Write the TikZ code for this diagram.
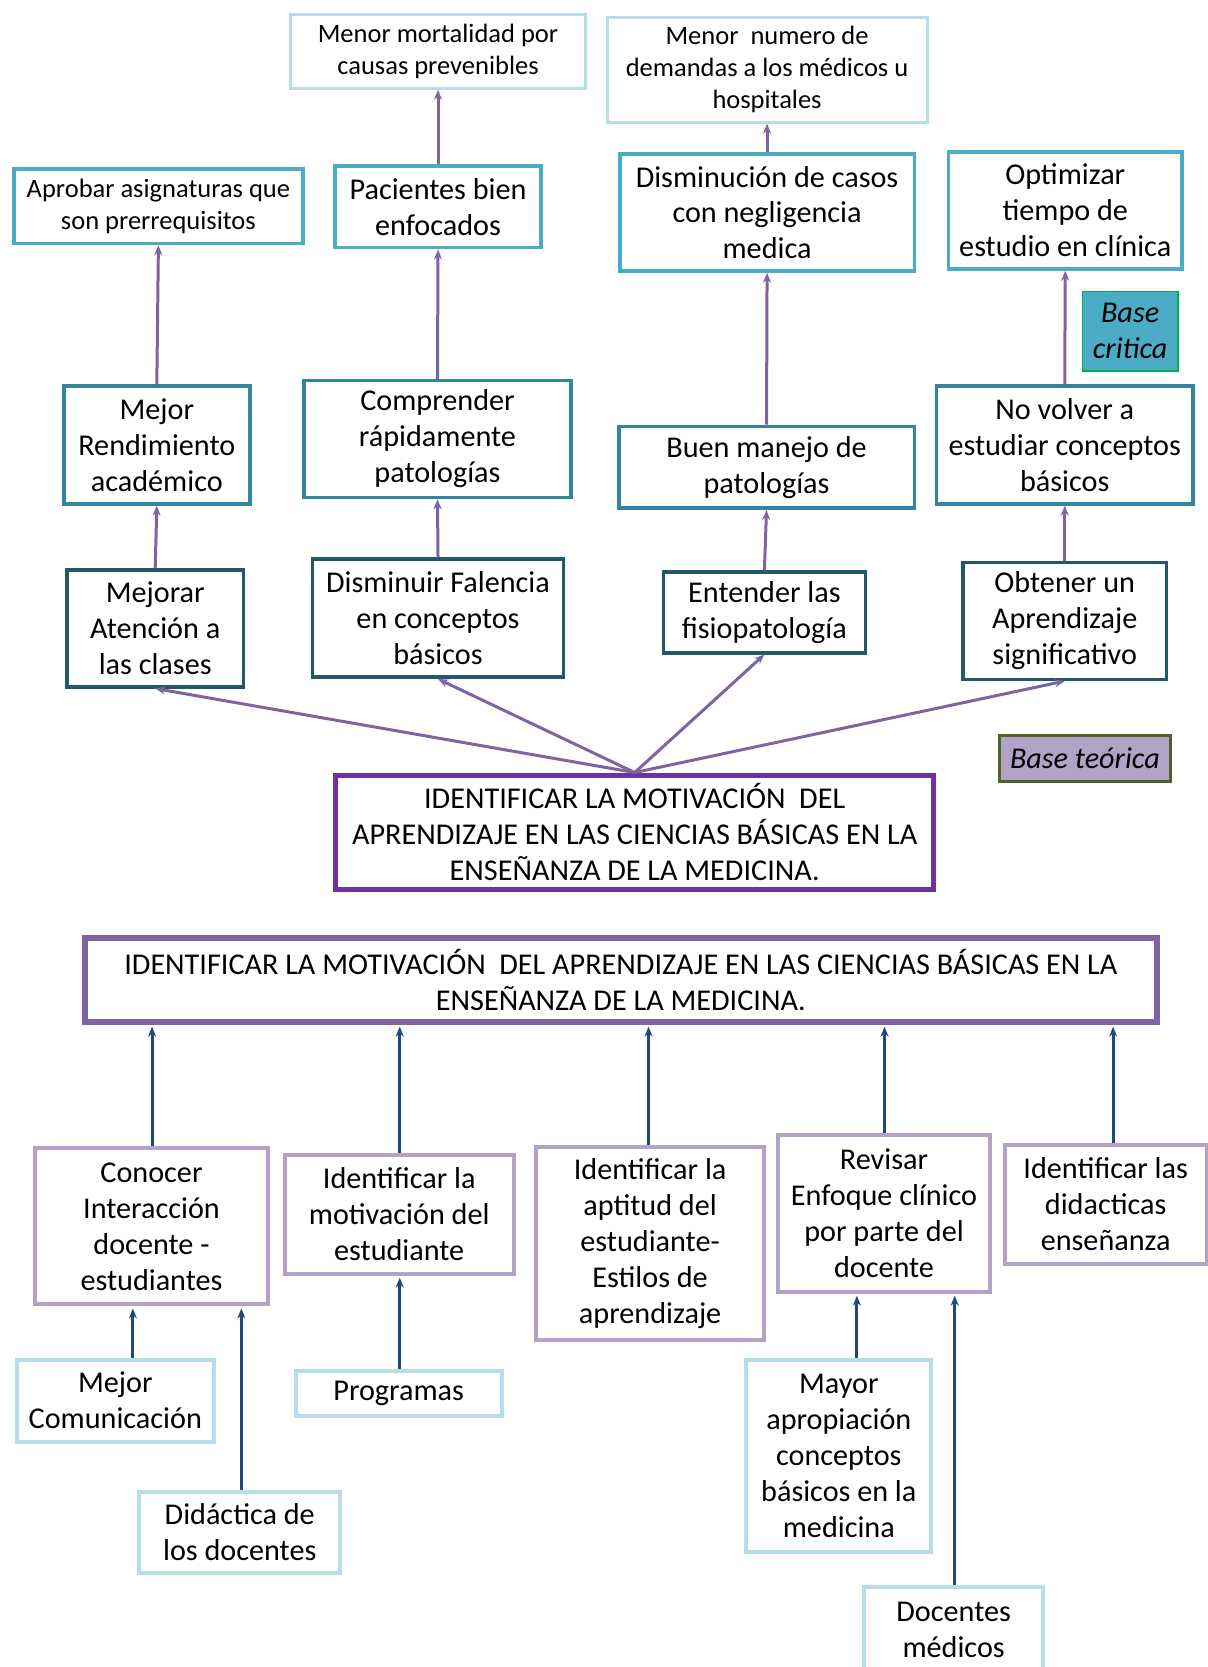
\documentclass[tikz,border=0pt]{standalone}
\usepackage{fontspec}
\setmainfont{Carlito}
\usetikzlibrary{arrows.meta}
\definecolor{lblue}{HTML}{B7DDE8}
\definecolor{mblue}{HTML}{4BACC6}
\definecolor{teal1}{HTML}{31859C}
\definecolor{dteal}{HTML}{215968}
\definecolor{purpE}{HTML}{7030A0}
\definecolor{purpF}{HTML}{8064A2}
\definecolor{lpurp}{HTML}{B3A2C7}
\definecolor{darrow}{HTML}{1F497D}
\definecolor{gborder}{HTML}{00B050}
\definecolor{olive}{HTML}{4F6228}
\newcommand\bigtxt{\fontsize{30.2}{36}\selectfont}
\newcommand\smalltxt{\fontsize{26.5}{32}\selectfont}
\begin{document}
\begin{tikzpicture}[x=1.0634pt,y=-1.0634pt,
  sz/.style 2 args={minimum width=(#1-4)*1.0634pt, minimum height=(#2-4)*1.0634pt},
  box/.style={draw, rectangle, inner sep=0pt, align=center, font=\bigtxt},
  boxA/.style={box, draw=lblue, line width=3pt, font=\smalltxt},
  boxB/.style={box, draw=mblue, line width=3.5pt},
  boxC/.style={box, draw=teal1, line width=3.5pt},
  boxD/.style={box, draw=dteal, line width=3.5pt},
  boxE/.style={box, draw=purpE, line width=5pt},
  boxF/.style={box, draw=purpF, line width=6pt},
  boxG/.style={box, draw=lpurp, line width=4pt},
  boxH/.style={box, draw=lblue, line width=4pt},
  critica/.style={box, draw=gborder, fill=mblue, line width=1.5pt, font=\bigtxt\itshape},
  teorica/.style={box, draw=olive, fill=lpurp, line width=3pt, font=\bigtxt\itshape},
  parr/.style={draw=purpF, line width=3pt, -{Stealth[length=10pt,width=8pt]}},
  barr/.style={draw=darrow, line width=3pt, -{Stealth[length=10pt,width=8pt]}, shorten >=2pt}
]
\useasboundingbox (0,0) rectangle (1136,1568);
\fill[white] (0,0) rectangle (1136,1568);

% top part
\node[boxA, sz={282}{73}] (a1) at (412,48.5) {Menor mortalidad por\\causas prevenibles};
\node[boxA, sz={305}{103}] (a2) at (721.5,65.5) {Menor~ numero de\\demandas a los médicos u\\hospitales};
\node[boxB, font=\smalltxt, sz={276}{74}] (b1) at (149,194) {Aprobar asignaturas que\\son prerrequisitos};
\node[boxB, sz={198}{81}] (b2) at (412,194.5) {Pacientes bien\\enfocados};
\node[boxB, sz={281}{114}] (b3) at (721.5,200) {Disminución de casos\\con negligencia\\medica};
\node[boxB, sz={224}{114}] (b4) at (1002,198) {Optimizar\\tiempo de\\estudio en clínica};
\node[critica, sz={94}{79}] (bc) at (1063,311.5) {Base\\critica};
\node[boxC, sz={179}{115}] (c1) at (147.5,418.5) {Mejor\\Rendimiento\\académico};
\node[boxC, sz={255}{114}] (c2) at (411.5,413) {Comprender\\rápidamente\\patologías};
\node[boxC, sz={282}{81}] (c3) at (721,439.5) {Buen manejo de\\patologías};
\node[boxC, sz={245}{115}] (c4) at (1001.5,418.5) {No volver a\\estudiar conceptos\\básicos};
\node[boxD, sz={170}{114}] (d1) at (146,591) {Mejorar\\Atención a\\las clases};
\node[boxD, sz={240}{115}] (d2) at (412,581.5) {Disminuir Falencia\\en conceptos\\básicos};
\node[boxD, sz={194}{80}] (d3) at (719,576) {Entender las\\fisiopatología};
\node[boxD, sz={195}{114}] (d4) at (1001.5,584) {Obtener un\\Aprendizaje\\significativo};
\node[teorica, sz={165}{47}] (bt) at (1020.5,713.5) {Base teórica};
\node[boxE, sz={566}{112}] (e) at (597,783) {IDENTIFICAR LA MOTIVACIÓN~ DEL\\APRENDIZAJE EN LAS CIENCIAS BÁSICAS EN LA\\ENSEÑANZA DE LA MEDICINA.};

% bottom part
\node[boxF, sz={1012}{83}] (f) at (584,921.5) {IDENTIFICAR LA MOTIVACIÓN~ DEL APRENDIZAJE EN LAS CIENCIAS BÁSICAS EN LA\\ENSEÑANZA DE LA MEDICINA.};
\node[boxG, sz={223}{151}] (g1) at (142.5,1153.5) {Conocer\\Interacción\\docente -\\estudiantes};
\node[boxG, sz={219}{116}] (g2) at (375.5,1142) {Identificar la\\motivación del\\estudiante};
\node[boxG, sz={219}{185}] (g3) at (611.5,1169.5) {Identificar la\\aptitud del\\estudiante-\\Estilos de\\aprendizaje};
\node[boxG, sz={203}{151}] (g4) at (831.5,1141.5) {Revisar\\Enfoque clínico\\por parte del\\docente};
\node[boxG, sz={194}{116}] (g5) at (1040,1133) {Identificar las\\didacticas\\enseñanza};
\node[boxH, sz={189}{81}] (h1) at (108.5,1317.5) {Mejor\\Comunicación};
\node[boxH, sz={193}{81}] (h2) at (225.5,1441.5) {Didáctica de\\los docentes};
\node[boxH, sz={198}{46}] (h3) at (375,1311) {Programas};
\node[boxH, sz={178}{185}] (h4) at (789,1369.5) {Mayor\\apropiación\\conceptos\\básicos en la\\medicina};
\node[boxH, sz={172}{84}] (h5) at (897,1533) {Docentes\\médicos};

% top connectors
\draw[parr] (c1.north) -- (b1.south);
\draw[parr] (c2.north) -- (b2.south);
\draw[parr] (b2.north) -- (a1.south);
\draw[parr] (c3.north) -- (b3.south);
\draw[parr] (b3.north) -- (a2.south);
\draw[parr] (c4.north) -- (b4.south);
\draw[parr] (d1.north) -- (c1.south);
\draw[parr] (d2.north) -- (c2.south);
\draw[parr] (d3.north) -- (c3.south);
\draw[parr] (d4.north) -- (c4.south);
\draw[parr] (e.north) -- (d1.south);
\draw[parr] (e.north) -- (d2.south);
\draw[parr] (e.north) -- (d3.south);
\draw[parr] (e.north) -- (d4.south);

% bottom connectors
\draw[barr] (143,0 |- g1.north) -- (143,0 |- f.south);
\draw[barr] (376,0 |- g2.north) -- (376,0 |- f.south);
\draw[barr] (610,0 |- g3.north) -- (610,0 |- f.south);
\draw[barr] (832,0 |- g4.north) -- (832,0 |- f.south);
\draw[barr] (1047,0 |- g5.north) -- (1047,0 |- f.south);
\draw[barr] (125,0 |- h1.north) -- (125,0 |- g1.south);
\draw[barr] (227,0 |- h2.north) -- (227,0 |- g1.south);
\draw[barr] (376,0 |- h3.north) -- (376,0 |- g2.south);
\draw[barr] (806,0 |- h4.north) -- (806,0 |- g4.south);
\draw[barr] (898,0 |- h5.north) -- (898,0 |- g4.south);
\end{tikzpicture}
\end{document}
